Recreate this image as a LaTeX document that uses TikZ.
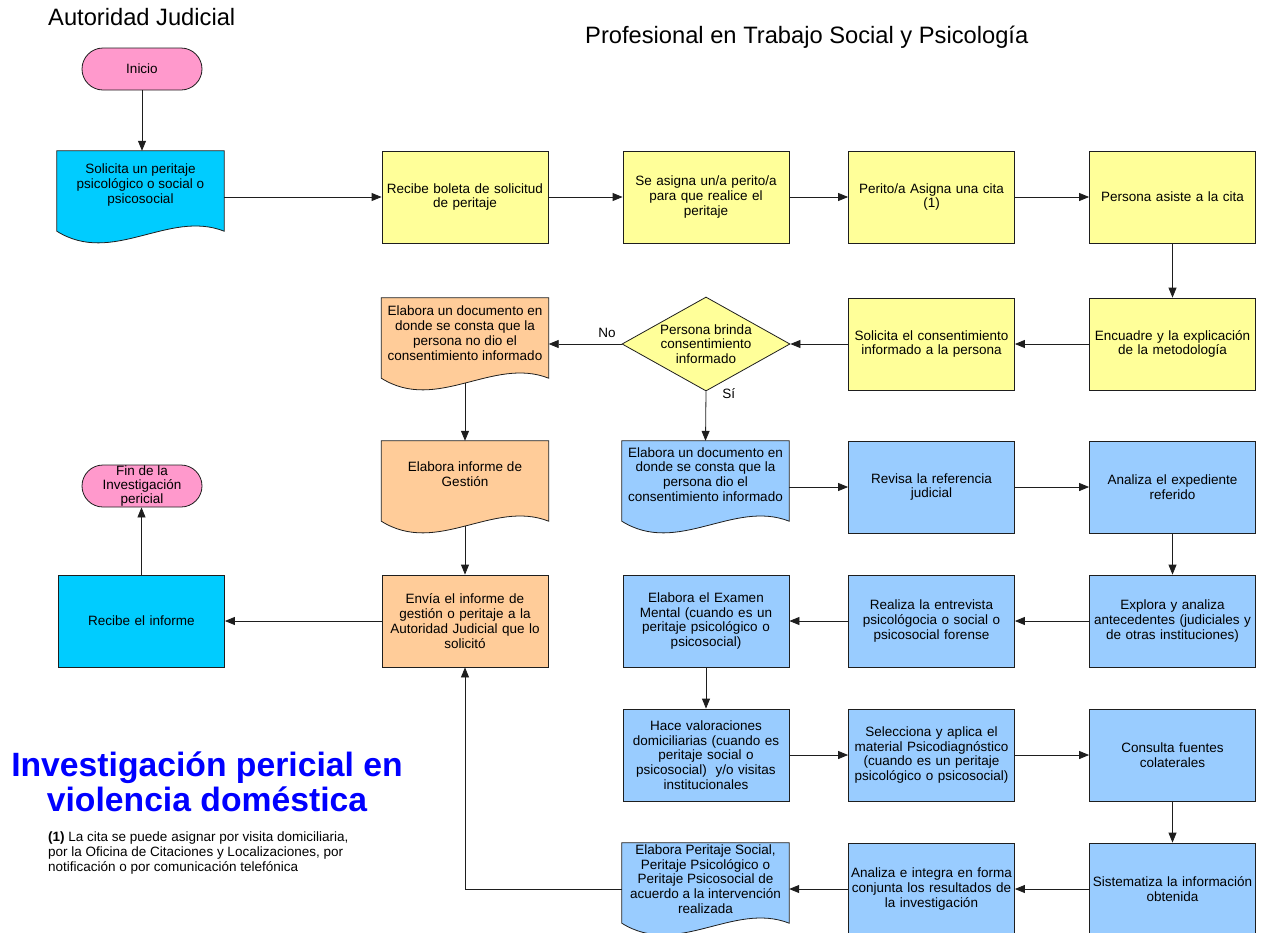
\documentclass[tikz,border=0pt]{standalone}
\usepackage{fontspec}
\setmainfont{Liberation Sans}
\usetikzlibrary{shapes.geometric,arrows.meta,calc,backgrounds}

\definecolor{pinkT}{HTML}{FF99CC}
\definecolor{cyanB}{HTML}{00CCFF}
\definecolor{yellowB}{HTML}{FFFF99}
\definecolor{orangeB}{HTML}{FFCC99}
\definecolor{blueB}{HTML}{99CCFF}
\definecolor{lineC}{HTML}{1E1E1E}
\definecolor{titleC}{HTML}{0000FF}

\newcommand\bxfont{\fontsize{13.5}{14.8}\selectfont}
\newcommand\doctext[2][22pt]{\parbox[c]{163pt}{\centering #2\par\vspace{#1}}}
\newcommand\docshape[2]{%
  \begin{pgfonlayer}{background}
  \draw[draw=lineC, line width=0.8pt, fill=#2]
    (#1.north west) -- (#1.north east) -- ([yshift=12pt]#1.south east)
    .. controls ($(#1.south east)!0.333!(#1.south west)+(0pt,34pt)$)
          and ($(#1.south east)!0.667!(#1.south west)+(0pt,-23pt)$)
    .. ([yshift=12pt]#1.south west) -- cycle;
  \end{pgfonlayer}}

\tikzset{
  box/.style={draw=lineC, line width=0.8pt, rectangle, minimum width=166pt,
    minimum height=92pt, inner sep=0pt, text width=162pt, align=center, font=\bxfont},
  docbox/.style={rectangle, minimum width=167pt, minimum height=92pt,
    inner sep=0pt, font=\bxfont},
  term/.style={draw=lineC, line width=0.8pt, fill=pinkT, rounded corners=21pt,
    minimum width=120pt, minimum height=42pt, inner sep=0pt, align=center,
    font=\fontsize{13.5}{14.2}\selectfont},
  decision/.style={diamond, draw=lineC, line width=0.8pt, fill=yellowB,
    minimum width=168pt, minimum height=94pt, inner sep=0pt, aspect=1.787,
    align=center, font=\bxfont},
  arr/.style={draw=lineC, line width=0.8pt, -{Triangle[length=10pt,width=8pt]}},
  lbl/.style={inner sep=0pt, font=\bxfont},
  head/.style={inner sep=0pt, anchor=west, font=\fontsize{23.7}{28}\selectfont},
}

\begin{document}
\begin{tikzpicture}[x=1pt,y=-1pt]
\useasboundingbox (0,0) rectangle (1269,932);

% headers
\node[head] (hA) at (48,17) {Autoridad Judicial};
\node[head] (hB) at (585,37) {Profesional en Trabajo Social y Psicología};

% row 1
\node[term] (inicio) at (142,69) {Inicio};
\node[docbox] (solicita) at (140.5,197) {\doctext[24pt]{Solicita un peritaje\\psicológico o social o\\psicosocial}};
\docshape{solicita}{cyanB}
\node[box, fill=yellowB] (recibe) at (465,197) {Recibe boleta de solicitud\\de peritaje};
\node[box, fill=yellowB] (asigna) at (706,197) {Se asigna un/a perito/a\\para que realice el\\peritaje};
\node[box, fill=yellowB] (cita) at (931.5,197) {Perito/a Asigna una cita\\(1)};
\node[box, fill=yellowB] (asiste) at (1172.5,197) {Persona asiste a la cita};

% row 2
\node[docbox] (docno) at (465,344) {\doctext[22pt]{Elabora un documento en\\donde se consta que la\\persona no dio el\\consentimiento informado}};
\docshape{docno}{orangeB}
\node[decision] (dec) at (706,344) {Persona brinda\\consentimiento\\informado};
\node[box, fill=yellowB] (consent) at (931.5,344) {Solicita el consentimiento\\informado a la persona};
\node[box, fill=yellowB] (encuadre) at (1172.5,344) {Encuadre y la explicación\\de la metodología};

% row 3
\node[term] (fin) at (142,486) {Fin de la\\Investigación\\pericial};
\node[docbox] (gestion) at (465,487) {\doctext[26pt]{Elabora informe de\\Gestión}};
\docshape{gestion}{orangeB}
\node[docbox] (docsi) at (705.5,487) {\doctext[25pt]{Elabora un documento en\\donde se consta que la\\persona dio el\\consentimiento informado}};
\docshape{docsi}{blueB}
\node[box, fill=blueB] (revisa) at (931.5,487) {Revisa la referencia\\judicial};
\node[box, fill=blueB] (expediente) at (1172.5,487) {Analiza el expediente\\referido};

% row 4
\node[box, fill=cyanB] (recibeinf) at (141.5,621) {Recibe el informe};
\node[box, fill=orangeB] (envia) at (465,621) {Envía el informe de\\gestión o peritaje a la\\Autoridad Judicial que lo\\solicitó};
\node[box, fill=blueB] (examen) at (706,621) {Elabora el Examen\\Mental (cuando es un\\peritaje psicológico o\\psicosocial)};
\node[box, fill=blueB] (entrevista) at (931.5,621) {Realiza la entrevista\\psicológocia o social o\\psicosocial forense};
\node[box, fill=blueB] (explora) at (1172.5,621) {Explora y analiza\\antecedentes (judiciales y\\de otras instituciones)};

% row 5
\node[box, fill=blueB] (valora) at (706,755) {Hace valoraciones\\domiciliarias (cuando es\\peritaje social o\\psicosocial)\ \ y/o visitas\\institucionales};
\node[box, fill=blueB] (selecciona) at (931.5,755) {Selecciona y aplica el\\material Psicodiagnóstico\\(cuando es un peritaje\\psicológico o psicosocial)};
\node[box, fill=blueB] (consulta) at (1172.5,755) {Consulta fuentes\\colaterales};

% row 6
\node[docbox] (peritaje) at (705.5,889) {\doctext[20pt]{Elabora Peritaje Social,\\Peritaje Psicológico o\\Peritaje Psicosocial de\\acuerdo a la intervención\\realizada}};
\docshape{peritaje}{blueB}
\node[box, fill=blueB] (integra) at (931.5,889) {Analiza e integra en forma\\conjunta los resultados de\\la investigación};
\node[box, fill=blueB] (sistematiza) at (1172.5,889) {Sistematiza la información\\obtenida};

% title and note
\node[align=center, inner sep=0pt, text=titleC, font=\bfseries\fontsize{33.7}{35}\selectfont] (title) at (207,782) {Investigación pericial en\\violencia doméstica};
\node[anchor=north west, align=left, inner sep=0pt, font=\fontsize{13.5}{15}\selectfont] (note) at (48,832) {\textbf{(1)} La cita se puede asignar por visita domiciliaria,\\por la Oficina de Citaciones y Localizaciones, por\\notificación o por comunicación telefónica};

% connectors
\draw[arr] (inicio.south) -- (inicio.south |- solicita.north);
\draw[arr] (solicita.east) -- (recibe.west);
\draw[arr] (recibe) -- (asigna);
\draw[arr] (asigna) -- (cita);
\draw[arr] (cita) -- (asiste);
\draw[arr] (asiste) -- (encuadre);
\draw[arr] (encuadre) -- (consent);
\draw[arr] (consent) -- (dec);
\draw[arr] (dec.west) -- node[lbl, above, pos=0.2, yshift=6pt] (no) {No} (docno.east);
\draw[arr] (dec.south) -- node[lbl, right, pos=0.04, xshift=16pt] (si) {Sí} (docsi.north);
\draw[arr] ([yshift=7pt]docno.south) -- (gestion.north);
\draw[arr] ([yshift=7pt]gestion.south) -- (envia.north);
\draw[arr] (docsi.east) -- (revisa.west);
\draw[arr] (revisa) -- (expediente);
\draw[arr] (expediente) -- (explora);
\draw[arr] (explora) -- (entrevista);
\draw[arr] (entrevista) -- (examen);
\draw[arr] (examen) -- (valora);
\draw[arr] (valora) -- (selecciona);
\draw[arr] (selecciona) -- (consulta);
\draw[arr] (consulta) -- (sistematiza);
\draw[arr] (sistematiza) -- (integra);
\draw[arr] (integra.west) -- (peritaje.east);
\draw[arr] (peritaje.west) -| (envia.south);
\draw[arr] (envia) -- (recibeinf);
\draw[arr] (recibeinf.north) -- (recibeinf.north |- fin.south);
\end{tikzpicture}
\end{document}
